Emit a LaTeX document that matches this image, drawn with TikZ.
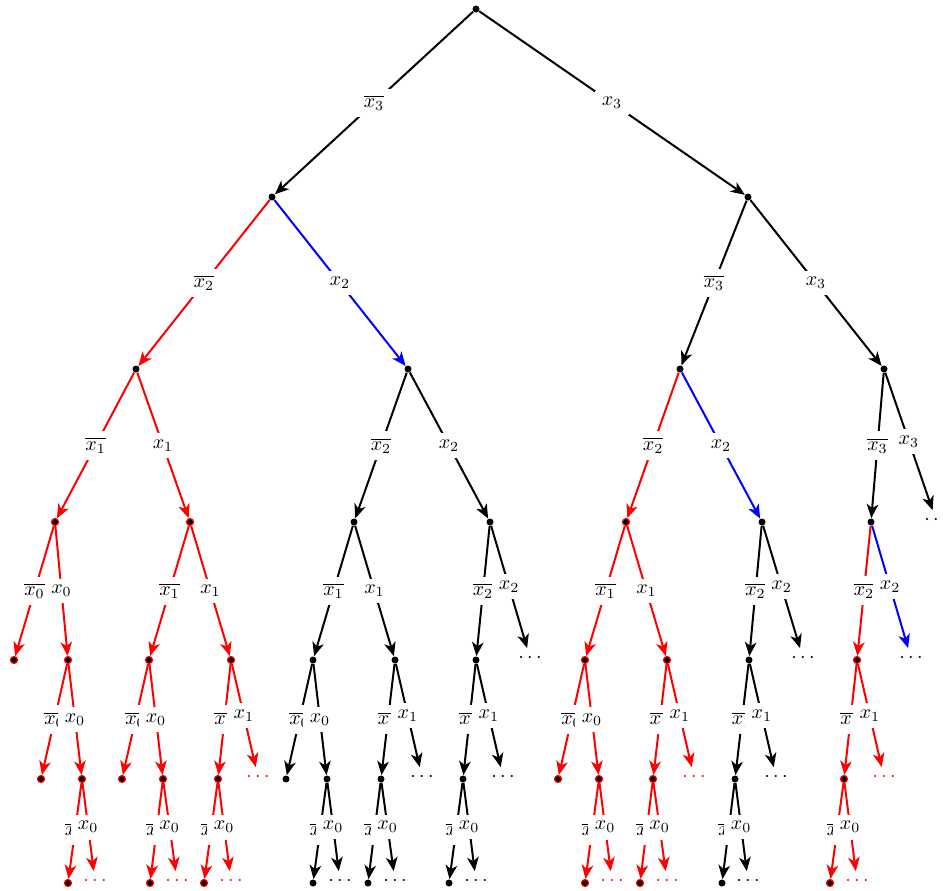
\documentclass[tikz,border=0pt]{standalone}
\usetikzlibrary{arrows.meta}

\begin{document}
\begin{tikzpicture}[
    x = 0.5pt, y = -0.5pt,
    pt/.style = {circle, fill=black, inner sep=0pt, minimum size=3.5pt},
    rpt/.style = {pt, draw=red, line width=0.6pt},
    more/.style = {inner sep=2.5pt},
    lab/.style = {fill=white, text=black},
    br/.style = {->, line width=1pt},
    > = {Stealth[length=7pt, width=5.8pt, inset=2pt]}
]
\useasboundingbox (0,0) rectangle (943,890);

% nodes
\node (r) [pt] at (476,9) {};
\node (n0) [pt] at (272,197) {};
\node (n1) [pt] at (748,197) {};

\node (n00) [pt] at (136,369) {};
\node (n01) [pt] at (408,369) {};
\node (n10) [pt] at (680,369) {};
\node (n11) [pt] at (884,369) {};

\node (n000) [rpt] at (55,522) {};
\node (n001) [rpt] at (190,522) {};
\node (n010) [pt] at (354,522) {};
\node (n011) [pt] at (490,522) {};
\node (n100) [rpt] at (626,522) {};
\node (n101) [pt] at (762,522) {};
\node (n110) [pt] at (871,522) {};
\node (n111) [more] at (936,520) {$\cdots$};

\node (n0000) [rpt] at (14,660) {};
\node (n0001) [rpt] at (68,660) {};
\node (n0010) [rpt] at (149,660) {};
\node (n0011) [rpt] at (231,660) {};
\node (n0100) [pt] at (313,660) {};
\node (n0101) [pt] at (395,660) {};
\node (n0110) [pt] at (476,660) {};
\node (n0111) [more] at (530,658) {$\cdots$};
\node (n1000) [rpt] at (585,660) {};
\node (n1001) [rpt] at (667,660) {};
\node (n1010) [pt] at (749,660) {};
\node (n1011) [more] at (803,658) {$\cdots$};
\node (n1100) [rpt] at (857,660) {};
\node (n1101) [more] at (911,658) {$\cdots$};

\node (n00010) [rpt] at (41,779) {};
\node (n00011) [rpt] at (82,779) {};
\node (n00100) [rpt] at (122,779) {};
\node (n00101) [rpt] at (163,779) {};
\node (n00110) [rpt] at (218,779) {};
\node (n00111) [more, red] at (258,777) {$\cdots$};
\node (n01000) [pt] at (286,779) {};
\node (n01001) [pt] at (327,779) {};
\node (n01010) [pt] at (381,779) {};
\node (n01011) [more] at (422,777) {$\cdots$};
\node (n01100) [pt] at (463,779) {};
\node (n01101) [more] at (503,777) {$\cdots$};
\node (n10000) [rpt] at (558,779) {};
\node (n10001) [rpt] at (599,779) {};
\node (n10010) [rpt] at (653,779) {};
\node (n10011) [more, red] at (694,777) {$\cdots$};
\node (n10100) [pt] at (735,779) {};
\node (n10101) [more] at (776,777) {$\cdots$};
\node (n11000) [rpt] at (844,779) {};
\node (n11001) [more, red] at (884,777) {$\cdots$};

\node (n000110) [rpt] at (68,883) {};
\node (n000111) [more, red] at (95,881) {$\cdots$};
\node (n001010) [rpt] at (150,883) {};
\node (n001011) [more, red] at (177,881) {$\cdots$};
\node (n001100) [rpt] at (204,883) {};
\node (n001101) [more, red] at (231,881) {$\cdots$};
\node (n010010) [pt] at (313,883) {};
\node (n010011) [more] at (340,881) {$\cdots$};
\node (n010100) [pt] at (368,883) {};
\node (n010101) [more] at (395,881) {$\cdots$};
\node (n011000) [pt] at (449,883) {};
\node (n011001) [more] at (476,881) {$\cdots$};
\node (n100010) [rpt] at (585,883) {};
\node (n100011) [more, red] at (612,881) {$\cdots$};
\node (n100100) [rpt] at (640,883) {};
\node (n100101) [more, red] at (667,881) {$\cdots$};
\node (n101000) [pt] at (722,883) {};
\node (n101001) [more] at (748,881) {$\cdots$};
\node (n110000) [rpt] at (830,883) {};
\node (n110001) [more, red] at (857,881) {$\cdots$};

% edges
\draw[br] (r) -- node[lab] {$\overline{x_3}$} (n0);
\draw[br] (r) -- node[lab] {$x_3$} (n1);

\draw[br, red] (n0) -- node[lab] {$\overline{x_2}$} (n00);
\draw[br, blue] (n0) -- node[lab] {$x_2$} (n01);
\draw[br] (n1) -- node[lab] {$\overline{x_3}$} (n10);
\draw[br] (n1) -- node[lab] {$x_3$} (n11);

\draw[br, red] (n00) -- node[lab] {$\overline{x_1}$} (n000);
\draw[br, red] (n00) -- node[lab] {$x_1$} (n001);
\draw[br] (n01) -- node[lab] {$\overline{x_2}$} (n010);
\draw[br] (n01) -- node[lab] {$x_2$} (n011);
\draw[br, red] (n10) -- node[lab] {$\overline{x_2}$} (n100);
\draw[br, blue] (n10) -- node[lab] {$x_2$} (n101);
\draw[br] (n11) -- node[lab] {$\overline{x_3}$} (n110);
\draw[br] (n11) -- node[lab] {$x_3$} (n111);

\draw[br, red] (n000) -- node[lab] {$\overline{x_0}$} (n0000);
\draw[br, red] (n000) -- node[lab] {$x_0$} (n0001);
\draw[br, red] (n001) -- node[lab] {$\overline{x_1}$} (n0010);
\draw[br, red] (n001) -- node[lab] {$x_1$} (n0011);
\draw[br] (n010) -- node[lab] {$\overline{x_1}$} (n0100);
\draw[br] (n010) -- node[lab] {$x_1$} (n0101);
\draw[br] (n011) -- node[lab] {$\overline{x_2}$} (n0110);
\draw[br] (n011) -- node[lab] {$x_2$} (n0111);
\draw[br, red] (n100) -- node[lab] {$\overline{x_1}$} (n1000);
\draw[br, red] (n100) -- node[lab] {$x_1$} (n1001);
\draw[br] (n101) -- node[lab] {$\overline{x_2}$} (n1010);
\draw[br] (n101) -- node[lab] {$x_2$} (n1011);
\draw[br, red] (n110) -- node[lab] {$\overline{x_2}$} (n1100);
\draw[br, blue] (n110) -- node[lab] {$x_2$} (n1101);

\draw[br, red] (n0001) -- node[lab] {$\overline{x_0}$} (n00010);
\draw[br, red] (n0001) -- node[lab] {$x_0$} (n00011);
\draw[br, red] (n0010) -- node[lab] {$\overline{x_0}$} (n00100);
\draw[br, red] (n0010) -- node[lab] {$x_0$} (n00101);
\draw[br, red] (n0011) -- node[lab] {$\overline{x_1}$} (n00110);
\draw[br, red] (n0011) -- node[lab] {$x_1$} (n00111);
\draw[br] (n0100) -- node[lab] {$\overline{x_0}$} (n01000);
\draw[br] (n0100) -- node[lab] {$x_0$} (n01001);
\draw[br] (n0101) -- node[lab] {$\overline{x_1}$} (n01010);
\draw[br] (n0101) -- node[lab] {$x_1$} (n01011);
\draw[br] (n0110) -- node[lab] {$\overline{x_1}$} (n01100);
\draw[br] (n0110) -- node[lab] {$x_1$} (n01101);
\draw[br, red] (n1000) -- node[lab] {$\overline{x_0}$} (n10000);
\draw[br, red] (n1000) -- node[lab] {$x_0$} (n10001);
\draw[br, red] (n1001) -- node[lab] {$\overline{x_1}$} (n10010);
\draw[br, red] (n1001) -- node[lab] {$x_1$} (n10011);
\draw[br] (n1010) -- node[lab] {$\overline{x_1}$} (n10100);
\draw[br] (n1010) -- node[lab] {$x_1$} (n10101);
\draw[br, red] (n1100) -- node[lab] {$\overline{x_1}$} (n11000);
\draw[br, red] (n1100) -- node[lab] {$x_1$} (n11001);

\draw[br, red] (n00011) -- node[lab] {$\overline{x_0}$} (n000110);
\draw[br, red] (n00011) -- node[lab] {$x_0$} (n000111);
\draw[br, red] (n00101) -- node[lab] {$\overline{x_0}$} (n001010);
\draw[br, red] (n00101) -- node[lab] {$x_0$} (n001011);
\draw[br, red] (n00110) -- node[lab] {$\overline{x_0}$} (n001100);
\draw[br, red] (n00110) -- node[lab] {$x_0$} (n001101);
\draw[br] (n01001) -- node[lab] {$\overline{x_0}$} (n010010);
\draw[br] (n01001) -- node[lab] {$x_0$} (n010011);
\draw[br] (n01010) -- node[lab] {$\overline{x_0}$} (n010100);
\draw[br] (n01010) -- node[lab] {$x_0$} (n010101);
\draw[br] (n01100) -- node[lab] {$\overline{x_0}$} (n011000);
\draw[br] (n01100) -- node[lab] {$x_0$} (n011001);
\draw[br, red] (n10001) -- node[lab] {$\overline{x_0}$} (n100010);
\draw[br, red] (n10001) -- node[lab] {$x_0$} (n100011);
\draw[br, red] (n10010) -- node[lab] {$\overline{x_0}$} (n100100);
\draw[br, red] (n10010) -- node[lab] {$x_0$} (n100101);
\draw[br] (n10100) -- node[lab] {$\overline{x_0}$} (n101000);
\draw[br] (n10100) -- node[lab] {$x_0$} (n101001);
\draw[br, red] (n11000) -- node[lab] {$\overline{x_0}$} (n110000);
\draw[br, red] (n11000) -- node[lab] {$x_0$} (n110001);
\end{tikzpicture}
\end{document}
